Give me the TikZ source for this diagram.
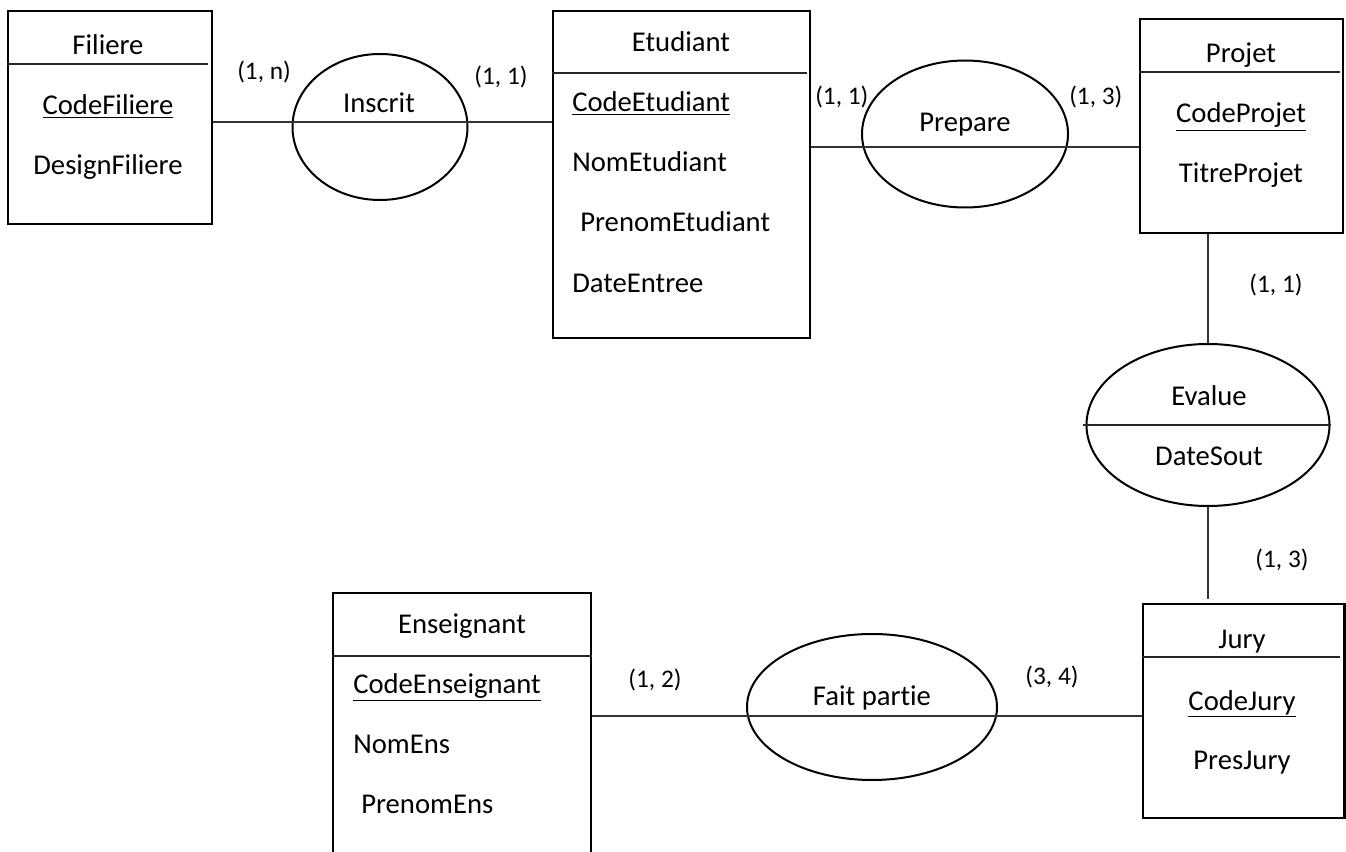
\documentclass[tikz,border=0pt]{standalone}
\usepackage{fontspec}
\setmainfont{Carlito}[Ligatures=NoCommon]
\usetikzlibrary{shapes.geometric}
\begin{document}
\begin{tikzpicture}[x=0.75pt,y=-0.75pt,
  entity/.style={draw, line width=1.7pt, rectangle, inner sep=0pt, anchor=north west},
  relation/.style={draw, line width=1.5pt, ellipse, inner sep=0pt},
  divider/.style={line width=0.8pt, draw=black!85},
  link/.style={line width=1pt, draw=black!80},
  txt/.style={inner sep=0pt, anchor=base, font=\fontsize{21.5}{25}\selectfont},
  attr/.style={txt, anchor=base west},
  card/.style={inner sep=0pt, anchor=base, font=\fontsize{19}{23}\selectfont},
]
\clip (0,0) rectangle (1346,852);

% entities
\node[entity, minimum width=153pt, minimum height=159.75pt] (fil) at (7,10) {};
\node[entity, minimum width=192.75pt, minimum height=245.25pt] (etu) at (552,10) {};
\node[entity, minimum width=152.25pt, minimum height=160.5pt] (proj) at (1139,18) {};
\node[entity, minimum width=151.1pt, minimum height=160.5pt] (jury) at (1142,603) {};
\node[entity, minimum width=193.5pt, minimum height=231pt] (ens) at (332,592) {};

% relations
\node[relation, minimum width=131.25pt, minimum height=109.5pt] (ins) at (380,127) {};
\node[relation, minimum width=154.5pt, minimum height=110.25pt] (prep) at (965,134) {};
\node[relation, minimum width=182.25pt, minimum height=121.5pt] (ev) at (1208,425) {};
\node[relation, minimum width=187.5pt, minimum height=109.5pt] (fait) at (872,707) {};

% header separators
\draw[divider] (fil.west |- 0,64) -- (208,64);
\draw[divider] (etu.west |- 0,73) -- (807,73);
\draw[divider] (proj.west |- 0,72) -- (1340,72);
\draw[divider] (jury.west |- 0,657) -- (1340,657);
\draw[divider] (ens.west |- 0,656) -- (ens.east |- 0,656);
\draw[divider] ([xshift=-2.25pt]ev.west) -- (ev.east);

% links
\draw[link] (fil.east |- 0,122) -- (etu.west |- 0,122);
\draw[link] (etu.east |- 0,147) -- (proj.west |- 0,147);
\draw[link] (proj.south -| ev.north) -- (ev.north);
\draw[link] (ev.south) -- ([yshift=3pt]jury.north -| ev.south);
\draw[link] (ens.east |- 0,716) -- (jury.west |- 0,716);

% Filiere
\node[txt] (fil-t) at (108,55) {Filiere};
\node[txt] (fil-a1) at (108,115) {\underline{CodeFiliere}};
\node[txt] (fil-a2) at (108,175) {DesignFiliere};

% Etudiant
\node[txt] (etu-t) at (681,52) {Etudiant};
\node[attr] (etu-a1) at (572,112) {\underline{CodeEtudiant}};
\node[attr] (etu-a2) at (572,172) {NomEtudiant};
\node[attr] (etu-a3) at (580,232) {PrenomEtudiant};
\node[attr] (etu-a4) at (572,293) {DateEntree};

% Projet
\node[txt] (proj-t) at (1241,63) {Projet};
\node[txt] (proj-a1) at (1241,123) {\underline{CodeProjet}};
\node[txt] (proj-a2) at (1241,183) {TitreProjet};

% Jury
\node[txt] (jury-t) at (1242,648) {Jury};
\node[txt] (jury-a1) at (1242,710) {\underline{CodeJury}};
\node[txt] (jury-a2) at (1242,769) {PresJury};

% Enseignant
\node[txt] (ens-t) at (462,633) {Enseignant};
\node[attr] (ens-a1) at (353,693) {\underline{CodeEnseignant}};
\node[attr] (ens-a2) at (353,753) {NomEns};
\node[attr] (ens-a3) at (361,813) {PrenomEns};

% relation labels
\node[txt] (ins-t) at (379,113) {Inscrit};
\node[txt] (prep-t) at (965,132) {Prepare};
\node[txt] (ev-t) at (1209,405) {Evalue};
\node[txt] (ev-a) at (1209,465) {DateSout};
\node[txt] (fait-t) at (872,705) {Fait partie};

% cardinalities
\node[card, anchor=base west] (c1) at (237,80) {(1, n)};
\node[card] (c2) at (501,85) {(1, 1)};
\node[card, anchor=base west] (c3) at (815,105) {(1, 1)};
\node[card, anchor=base west] (c4) at (1069,105) {(1, 3)};
\node[card] (c5) at (1276,293) {(1, 1)};
\node[card] (c6) at (1282,567) {(1, 3)};
\node[card] (c7) at (655,687) {(1, 2)};
\node[card] (c8) at (1052,684) {(3, 4)};
\end{tikzpicture}
\end{document}
